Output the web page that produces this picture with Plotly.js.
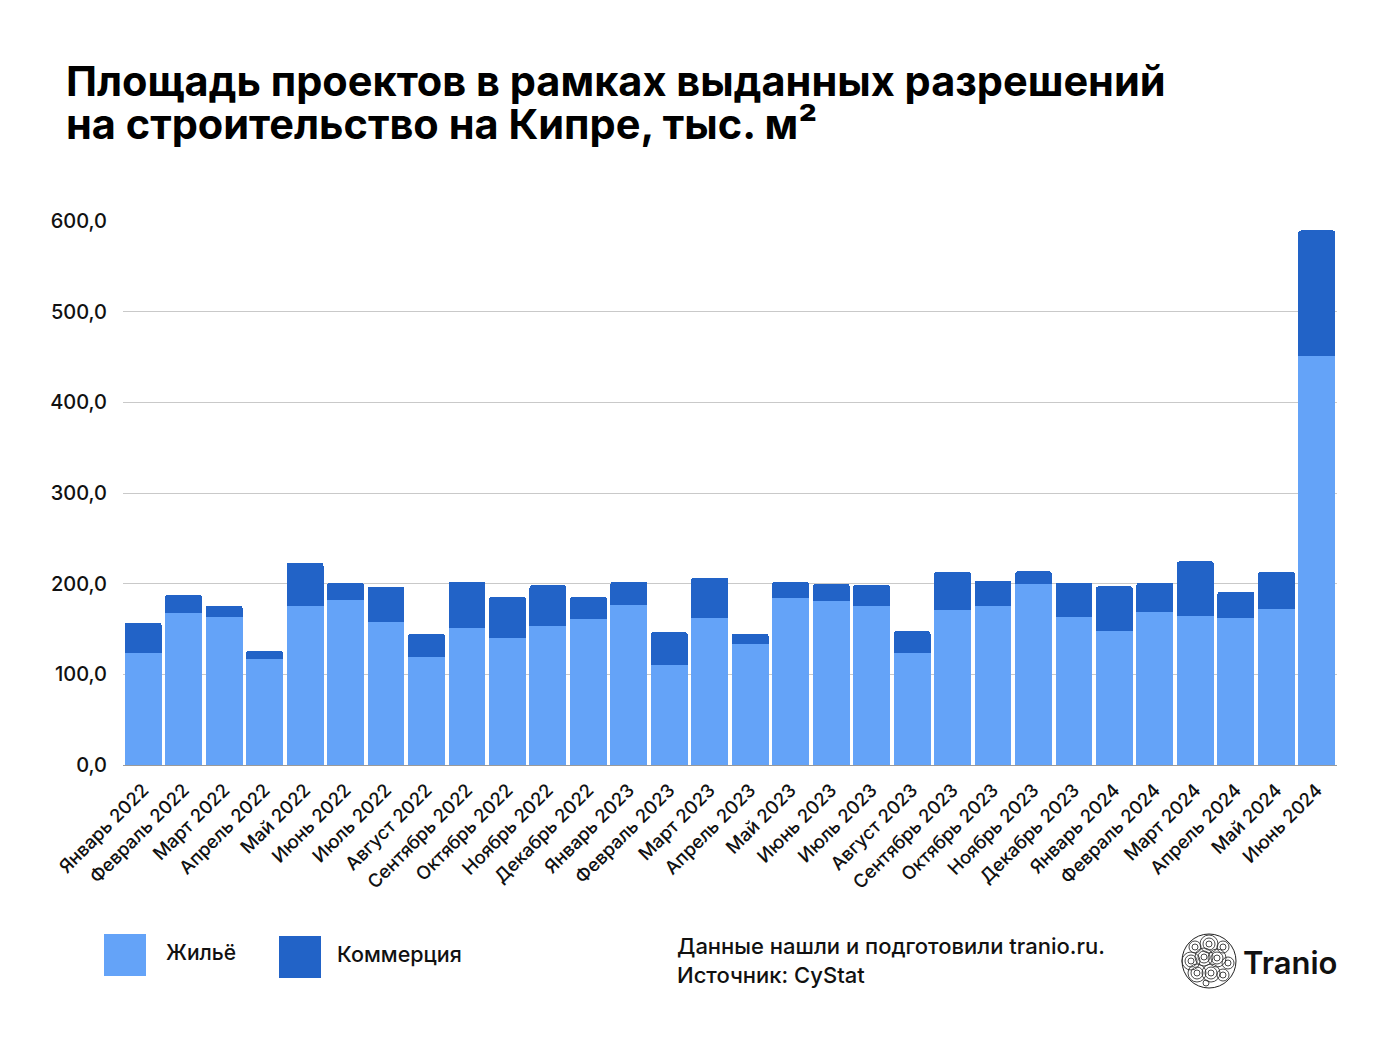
<!DOCTYPE html>
<html><head><meta charset="utf-8">
<script src="https://cdn.plot.ly/plotly-3.0.1.min.js"></script>
<style>body{margin:0;background:#fff}#c{width:1386px;height:1040px}</style>
</head><body><div id="c"></div>
<script>
const months = ["Январь 2022","Февраль 2022","Март 2022","Апрель 2022","Май 2022","Июнь 2022","Июль 2022","Август 2022","Сентябрь 2022","Октябрь 2022","Ноябрь 2022","Декабрь 2022","Январь 2023","Февраль 2023","Март 2023","Апрель 2023","Май 2023","Июнь 2023","Июль 2023","Август 2023","Сентябрь 2023","Октябрь 2023","Ноябрь 2023","Декабрь 2023","Январь 2024","Февраль 2024","Март 2024","Апрель 2024","Май 2024","Июнь 2024"];
const housing = [124,167.4,163,116.7,175,181.7,157.5,119,151.6,139.8,153.8,161.5,176.2,110.8,162.6,133.6,184.3,181,175.9,123.7,170.7,175.1,200.1,163.4,147.5,168.5,164.1,161.9,171.8,451.5];
const commerce = [33.1,20.6,12.9,9.5,48.3,19.2,39.3,25.6,50.7,46,44.4,23.9,26.1,35.6,44.1,11.4,18,18.8,23.1,23.8,42.6,28.3,13.6,37.8,49.6,32.7,60.6,29.4,41.5,138.1];
const legendNames = ["Жильё","Коммерция"];
const titleLines = ["Площадь проектов в рамках выданных разрешений","на строительство на Кипре, тыс. м²"];
const colors = {housing:"#64A3F8", commerce:"#2263C7"};

const traces = [
  {type:"bar", x:months, y:housing, name:legendNames[0], marker:{color:colors.housing}, hoverinfo:"y"},
  {type:"bar", x:months, y:commerce, name:legendNames[1], marker:{color:colors.commerce}, hoverinfo:"y"}
];

const L=123, R=1337, T=221, B=765;
const W=R-L, H=B-T;
const px=x=>(x-L)/W, py=y=>(B-y)/H;

const shapes = [
  {type:"rect", xref:"paper", yref:"paper", x0:px(104), x1:px(146), y0:py(976), y1:py(934), fillcolor:colors.housing, line:{width:0}},
  {type:"rect", xref:"paper", yref:"paper", x0:px(279), x1:px(321), y0:py(978), y1:py(936), fillcolor:colors.commerce, line:{width:0}}
];
const cx=1209, cy=961, rad=27;
shapes.push({type:"circle", xref:"paper", yref:"paper", x0:px(cx-rad), x1:px(cx+rad), y0:py(cy+rad), y1:py(cy-rad), line:{color:"#222",width:1}, fillcolor:"#fff"});
const centers=[[-14,-14],[0,-17],[14,-14],[-18,0],[-5,-4],[8,-3],[19,2],[-12,12],[2,12],[14,14],[-3,22]];
centers.forEach(([dx,dy])=>{
  [3,6,9].forEach(r=>{
    if (Math.hypot(dx,dy)+r<=rad+1){
      shapes.push({type:"circle", xref:"paper", yref:"paper", x0:px(cx+dx-r), x1:px(cx+dx+r), y0:py(cy+dy+r), y1:py(cy+dy-r), line:{color:"#333",width:0.9}});
    }
  });
});

const F="Inter, sans-serif";
const annotations = [
  {xref:"paper", yref:"paper", x:px(64), y:py(81), xanchor:"left", yanchor:"middle", text:titleLines[0], showarrow:false, font:{family:F, size:41.5, color:"#000", weight:700}},
  {xref:"paper", yref:"paper", x:px(64), y:py(124), xanchor:"left", yanchor:"middle", text:titleLines[1], showarrow:false, font:{family:F, size:41.5, color:"#000", weight:700}},
  {xref:"paper", yref:"paper", x:px(164), y:py(952), xanchor:"left", yanchor:"middle", text:legendNames[0], showarrow:false, font:{family:F, size:21, color:"#111", weight:500}},
  {xref:"paper", yref:"paper", x:px(335), y:py(954), xanchor:"left", yanchor:"middle", text:legendNames[1], showarrow:false, font:{family:F, size:21.5, color:"#111", weight:500}},
  {xref:"paper", yref:"paper", x:px(675), y:py(960), xanchor:"left", yanchor:"middle", align:"left", text:"Данные нашли и подготовили tranio.ru.<br>Источник: CyStat", showarrow:false, font:{family:F, size:22, color:"#111", weight:500}},
  {xref:"paper", yref:"paper", x:px(1241), y:py(962), xanchor:"left", yanchor:"middle", text:"Tranio", showarrow:false, font:{family:F, size:31, color:"#111", weight:600}}
];

const layout = {
  width:1386, height:1040,
  paper_bgcolor:"#fff", plot_bgcolor:"#fff",
  margin:{l:L, r:1386-R, t:T, b:1040-B},
  barmode:"stack", bargap:0.09, barcornerradius:3,
  showlegend:false,
  separators:", ",
  xaxis:{tickangle:-45, tickfont:{family:F, size:18.5, color:"#111", weight:500}, showgrid:false, ticks:"", ticklabelstandoff:6, showline:true, linecolor:"#9a9a9a", linewidth:1, fixedrange:true},
  yaxis:{range:[0,600], tickvals:[0,100,200,300,400,500,600], tickformat:".1f", gridcolor:"#c9c9c9", gridwidth:1, zeroline:false, tickfont:{family:F, size:20, color:"#111", weight:500}, ticks:"", ticklabelstandoff:15, fixedrange:true},
  shapes:shapes, annotations:annotations
};
Plotly.newPlot("c", traces, layout, {displayModeBar:false, staticPlot:true});
</script></body></html>
